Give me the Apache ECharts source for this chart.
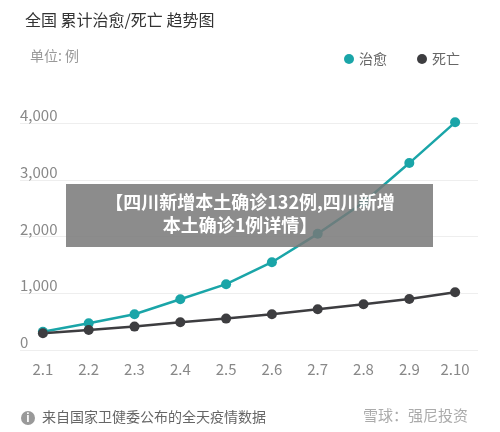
<!DOCTYPE html><html><head><meta charset="utf-8"><script src="https://cdn.jsdelivr.net/npm/echarts@6/dist/echarts.min.js"></script>
<style>html,body{margin:0;padding:0;background:#fff}#c{width:500px;height:432px}</style></head><body><div id="c"></div><script>
const categories=['2.1','2.2','2.3','2.4','2.5','2.6','2.7','2.8','2.9','2.10'];
const cured=[320,470,630,895,1160,1547,2047,2600,3294,4012];
const deaths=[294,353,412,488,553,630,718,806,900,1018];
const yTicks=[0,1000,2000,3000,4000];
const F='"Noto Sans CJK SC","Noto Sans",sans-serif';
const ch=echarts.init(document.getElementById('c'));
ch.setOption({
animation:false,
title:[{text:'全国 累计治愈/死亡 趋势图',left:20,top:7,textStyle:{fontSize:16,fontWeight:'normal',color:'#333',fontFamily:F}},
{text:'单位: 例',left:25,top:44,textStyle:{fontSize:14,fontWeight:'normal',color:'#999',fontFamily:F}}],
legend:{right:35,top:47,itemWidth:10,itemHeight:10,icon:'circle',itemGap:30,textStyle:{fontSize:14,color:'#666',fontFamily:F},data:['治愈','死亡']},
grid:{left:20,right:22,top:123,bottom:82},
xAxis:{type:'category',data:categories,boundaryGap:true,axisLine:{show:false},axisTick:{show:false},axisLabel:{fontSize:15,color:'#888',margin:12,fontFamily:F}},
yAxis:{type:'value',min:0,max:4000,interval:1000,axisLabel:{inside:true,verticalAlign:'bottom',margin:0,fontSize:15,color:'#888',fontFamily:F,formatter:v=>yTicks.includes(v)?v.toLocaleString('en-US'):''},splitLine:{lineStyle:{color:'#eee'}}},
series:[{name:'治愈',type:'line',clip:false,data:cured,symbol:'circle',symbolSize:10,itemStyle:{color:'#1aa5a8'},lineStyle:{width:2.5,color:'#1aa5a8'}},
{name:'死亡',type:'line',clip:false,data:deaths,symbol:'circle',symbolSize:10,itemStyle:{color:'#3d3d40'},lineStyle:{width:2.5,color:'#3d3d40'}}],
graphic:[{type:'rect',shape:{x:66,y:184,width:367,height:63},style:{fill:'rgba(120,120,120,0.85)'},z:100},
{type:'text',x:250,y:193,style:{text:'【四川新增本土确诊132例,四川新增',fill:'#fff',font:'bold 18px '+F,textAlign:'center'},z:101},
{type:'text',x:240,y:216,style:{text:'本土确诊1例详情】',fill:'#fff',font:'bold 18px '+F,textAlign:'center'},z:101},
{type:'circle',shape:{cx:28,cy:418,r:7},style:{fill:'#999'},z:10},
{type:'text',x:28,y:418,style:{text:'i',fill:'#fff',font:'bold 11px '+F,textAlign:'center',textVerticalAlign:'middle'},z:11},
{type:'text',x:42,y:410,style:{text:'来自国家卫健委公布的全天疫情数据',fill:'#666',font:'14px '+F},z:10},
{type:'text',x:363,y:408,style:{text:'雪球：强尼投资',fill:'rgba(150,150,150,0.8)',font:'15px '+F},z:10}]
});
</script></body></html>
